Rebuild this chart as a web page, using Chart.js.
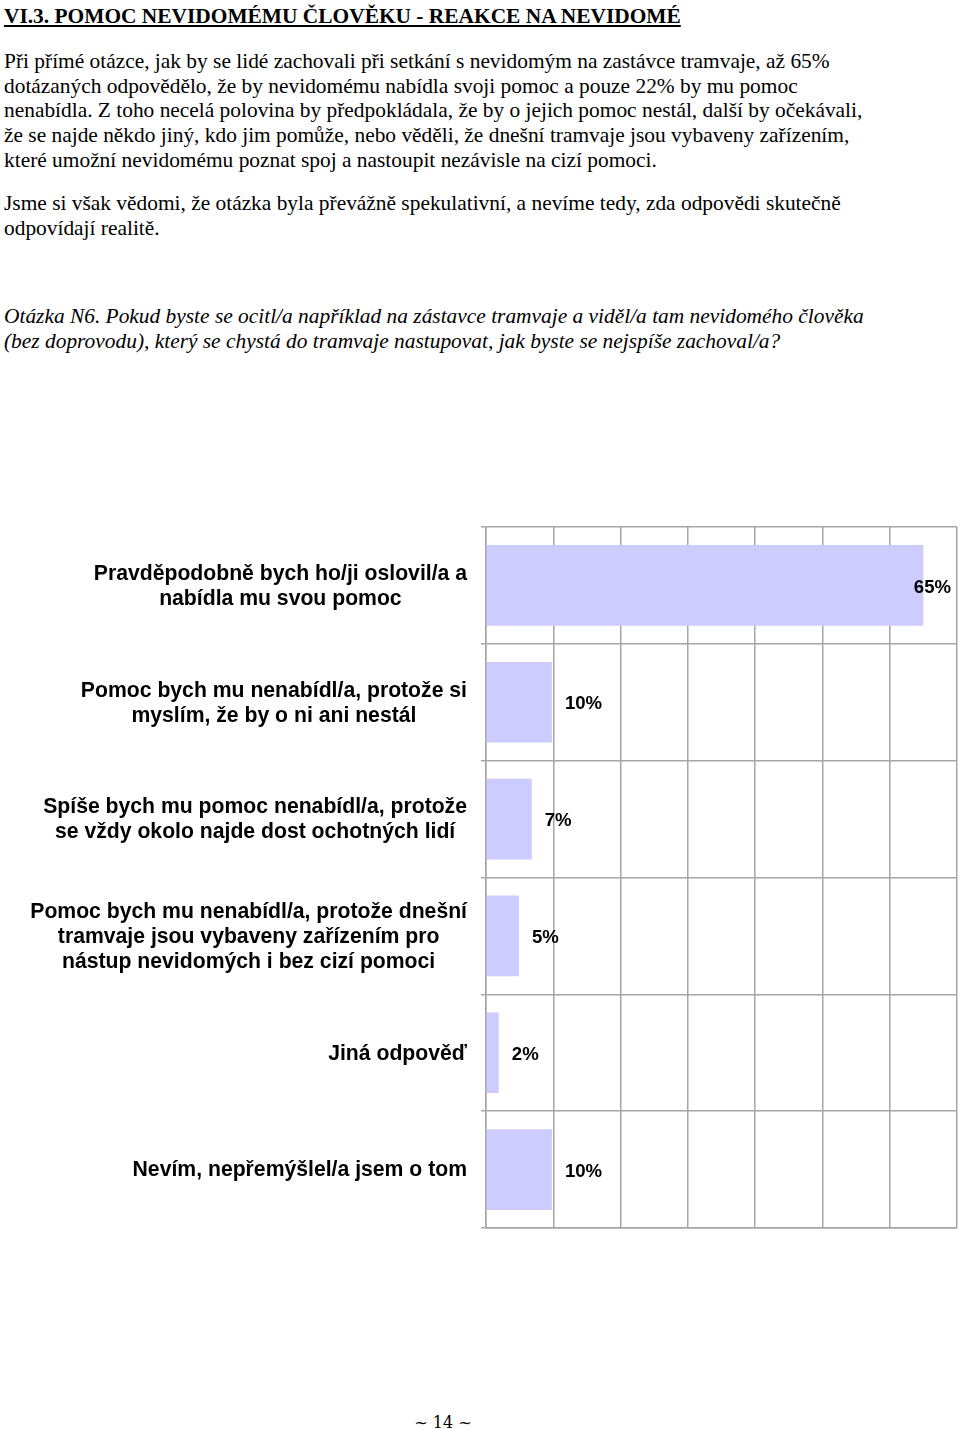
<!DOCTYPE html>
<html>
<head>
<meta charset="utf-8">
<script src="https://cdn.jsdelivr.net/npm/chart.js@4.4.0/dist/chart.umd.min.js"></script>
<style>
  html, body { margin: 0; padding: 0; background: #fff; }
  body { width: 960px; height: 1431px; position: relative; overflow: hidden; }
  .ln { position: absolute; left: 4px; white-space: nowrap; font-family: "Liberation Serif", "Times New Roman", serif; font-size: 21.4px; line-height: 24px; color: #000; }
  .title { font-weight: bold; text-decoration: underline; font-size: 21.4px; }
  .it { font-style: italic; }
  #footer { position: absolute; left: 0; width: 886px; text-align: center; top: 1411px; font-family: "DejaVu Serif", "Liberation Serif", serif; font-size: 16px; line-height: 24px; }
  #wrap { position: absolute; left: 0; top: 500px; width: 960px; height: 760px; }
</style>
</head>
<body>
<div class="ln title" style="top:4px">VI.3. POMOC NEVIDOMÉMU ČLOVĚKU - REAKCE NA NEVIDOMÉ</div>
<div class="ln" style="top:49px">Při přímé otázce, jak by se lidé zachovali při setkání s nevidomým na zastávce tramvaje, až 65%</div>
<div class="ln" style="top:74px">dotázaných odpovědělo, že by nevidomému nabídla svoji pomoc a pouze 22% by mu pomoc</div>
<div class="ln" style="top:98px">nenabídla. Z toho necelá polovina by předpokládala, že by o jejich pomoc nestál, další by očekávali,</div>
<div class="ln" style="top:123px">že se najde někdo jiný, kdo jim pomůže, nebo věděli, že dnešní tramvaje jsou vybaveny zařízením,</div>
<div class="ln" style="top:148px">které umožní nevidomému poznat spoj a nastoupit nezávisle na cizí pomoci.</div>
<div class="ln" style="top:191px">Jsme si však vědomi, že otázka byla převážně spekulativní, a nevíme tedy, zda odpovědi skutečně</div>
<div class="ln" style="top:216px">odpovídají realitě.</div>
<div class="ln it" style="top:304px">Otázka N6. Pokud byste se ocitl/a například na zástavce tramvaje a viděl/a tam nevidomého člověka</div>
<div class="ln it" style="top:329px">(bez doprovodu), který se chystá do tramvaje nastupovat, jak byste se nejspíše zachoval/a?</div>

<div id="wrap"><canvas id="c" width="960" height="760"></canvas></div>
<div id="footer">~ 14 ~</div>

<script>
const categories = [
  ["Pravděpodobně bych ho/ji oslovil/a a", "nabídla mu svou pomoc"],
  ["Pomoc bych mu nenabídl/a, protože si", "myslím, že by o ni ani nestál"],
  ["Spíše bych mu pomoc nenabídl/a, protože", "se vždy okolo najde dost ochotných lidí"],
  ["Pomoc bych mu nenabídl/a, protože dnešní", "tramvaje jsou vybaveny zařízením pro", "nástup nevidomých i bez cizí pomoci"],
  ["Jiná odpověď"],
  ["Nevím, nepřemýšlel/a jsem o tom"]
];
const values = [65, 9.8, 6.8, 4.9, 1.9, 9.8];
const valueLabels = ["65%", "10%", "7%", "5%", "2%", "10%"];
const axisMax = 70;
const axisStep = 10;

const labelFont = 'bold 21.2px "Liberation Sans", Arial, sans-serif';

const customLabels = {
  id: 'customLabels',
  afterDraw(chart) {
    const ctx = chart.ctx;
    const yScale = chart.scales.y;
    const area = chart.chartArea;
    ctx.save();
    ctx.fillStyle = '#000';
    ctx.font = labelFont;
    ctx.textBaseline = 'middle';
    categories.forEach((lines, i) => {
      const cy = yScale.getPixelForTick(i);
      const widths = lines.map(l => ctx.measureText(l).width);
      const blockW = Math.max(...widths);
      const right = area.left - 19;
      const cx = right - blockW / 2;
      const lh = 25;
      const startY = cy - (lines.length - 1) * lh / 2;
      ctx.textAlign = 'center';
      lines.forEach((l, j) => ctx.fillText(l, cx, startY + j * lh + 1));
    });
    const meta = chart.getDatasetMeta(0);
    ctx.font = 'bold 18.6px "Liberation Sans", Arial, sans-serif';
    ctx.textAlign = 'left';
    meta.data.forEach((bar, i) => {
      const t = valueLabels[i];
      const w = ctx.measureText(t).width;
      let x = bar.x + 13;
      if (x + w > area.right - 6) x = area.right - 6 - w;
      ctx.fillText(t, x, bar.y + 2);
    });
    ctx.restore();
  }
};

new Chart(document.getElementById('c'), {
  type: 'bar',
  data: {
    labels: categories,
    datasets: [{
      data: values,
      backgroundColor: '#ccccff',
      borderWidth: 0,
      categoryPercentage: 1,
      barPercentage: 0.69
    }]
  },
  options: {
    indexAxis: 'y',
    responsive: false,
    animation: false,
    devicePixelRatio: 1,
    layout: { padding: { left: 481, right: 3, top: 27, bottom: 32 } },
    plugins: { legend: { display: false }, tooltip: { enabled: false } },
    scales: {
      x: {
        min: 0, max: axisMax,
        ticks: { display: false, stepSize: axisStep },
        grid: { color: '#a6a6a6', lineWidth: 1.5, drawTicks: false },
        border: { display: true, color: '#a6a6a6', width: 1.5 }
      },
      y: {
        ticks: { display: false },
        grid: { color: '#a6a6a6', lineWidth: 1.5, drawTicks: true, tickLength: 5, offset: true },
        border: { display: true, color: '#a6a6a6', width: 1.5 }
      }
    }
  },
  plugins: [customLabels]
});
</script>
</body>
</html>
